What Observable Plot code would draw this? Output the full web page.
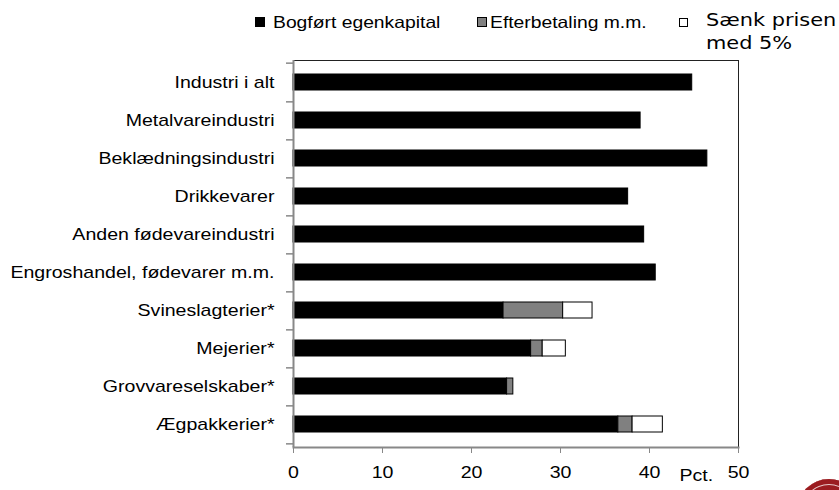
<!DOCTYPE html>
<html><head><meta charset="utf-8">
<script src="https://cdn.jsdelivr.net/npm/d3@7"></script>
<script src="https://cdn.jsdelivr.net/npm/@observablehq/plot@0.6"></script>
<style>
body{margin:0;background:#fff;}
#wrap{position:relative;width:839px;height:490px;overflow:hidden;font-family:"Liberation Sans",Arial,sans-serif;color:#000;}
#legend{position:absolute;left:0;top:0;width:839px;height:50px;}
.sw{position:absolute;width:10px;height:10px;box-sizing:border-box;border:1px solid #000;}
.lt{position:absolute;font-size:16.5px;line-height:18px;white-space:nowrap;transform:scaleX(1.17);transform-origin:left top;}
.lt2{position:absolute;font-family:"DejaVu Sans",sans-serif;font-size:18px;line-height:23px;width:116px;transform:scaleX(1.16);transform-origin:left top;}
#chart{position:absolute;left:0;top:50px;}
.logo{position:absolute;left:797px;top:479px;width:64px;height:64px;border-radius:50%;background:#9b1c20;box-shadow:inset 0 0 0 5px #9b1c20, inset 0 0 0 6px #e8c9ca;}
</style></head><body>
<div id="wrap">
  <div id="legend"></div>
  <div id="chart"></div>
  <div class="logo"></div>
</div>
<script>
const categories = ["Industri i alt", "Metalvareindustri", "Beklædningsindustri", "Drikkevarer", "Anden fødevareindustri", "Engroshandel, fødevarer m.m.", "Svineslagterier*", "Mejerier*", "Grovvareselskaber*", "Ægpakkerier*"];
const bogfort = [44.8, 39.0, 46.5, 37.6, 39.4, 40.7, 23.6, 26.7, 24.0, 36.5];
const efterbetaling = [0, 0, 0, 0, 0, 0, 6.7, 1.3, 0.7, 1.6];
const saenk = [0, 0, 0, 0, 0, 0, 3.3, 2.6, 0, 3.4];
const seriesNames = ["Bogført egenkapital", "Efterbetaling m.m.", "Sænk prisen med 5%"];
const seriesColors = ["#000000", "#808080", "#ffffff"];
const xTicks = [0, 10, 20, 30, 40, 50];

// legend
const legend = document.getElementById("legend");
const legendPos = [{sw: [255, 17, 10], tx: [273, 13]}, {sw: [477, 17, 10], tx: [490, 13]}, {sw: [679, 18, 9], tx: [706, 8]}];
seriesNames.forEach((name, i) => {
  const p = legendPos[i];
  const s = document.createElement("div");
  s.className = "sw";
  s.style.left = p.sw[0] + "px"; s.style.top = p.sw[1] + "px";
  s.style.width = p.sw[2] + "px"; s.style.height = p.sw[2] + "px";
  s.style.background = seriesColors[i];
  legend.append(s);
  const t = document.createElement("div");
  t.className = i === 2 ? "lt2" : "lt";
  t.style.left = p.tx[0] + "px"; t.style.top = p.tx[1] + "px";
  t.textContent = name;
  legend.append(t);
});

const data = [];
categories.forEach((c, i) => {
  [bogfort, efterbetaling, saenk].forEach((arr, s) => {
    if (arr[i] > 0) data.push({cat: c, series: seriesNames[s], value: arr[i]});
  });
});

const plotH = 440, mTop = 10, mBottom = 43;
const step = (plotH - mTop - mBottom) / categories.length;

const plot = Plot.plot({
  width: 839, height: plotH,
  marginTop: mTop, marginBottom: mBottom, marginLeft: 293, marginRight: 101,
  style: {fontFamily: "Liberation Sans, Arial, sans-serif", fontSize: "17px", color: "#000", background: "transparent", overflow: "visible"},
  x: {domain: [0, 50], ticks: xTicks},
  y: {domain: categories, paddingInner: 0.57, paddingOuter: 0.285},
  color: {domain: seriesNames, range: seriesColors},
  marks: [
    Plot.barX(data, {y: "cat", x: "value", fill: "series", stroke: "#000", strokeWidth: 1}),
    Plot.frame({stroke: "#222", strokeWidth: 1}),
    Plot.ruleY(categories, {y: d => d, x1: 0, x2: 0, insetLeft: -7, dy: step / 2, stroke: "#888", strokeWidth: 1.5, clip: false}),
    Plot.ruleY([categories[0]], {y: d => d, x1: 0, x2: 0, insetLeft: -7, dy: -step / 2, stroke: "#888", strokeWidth: 1.5, clip: false}),
    Plot.ruleX([0], {stroke: "#888", strokeWidth: 2}),
    Plot.frame({anchor: "bottom", stroke: "#888", strokeWidth: 2}),
    Plot.axisY({tickSize: 0, tickPadding: 19, label: null, fill: "#000", fontSize: 17}),
    Plot.axisX(xTicks, {tickSize: 6, tickPadding: 12, label: null, stroke: "#888", fill: "#000", fontSize: 17}),
    Plot.text(["Pct."], {frameAnchor: "bottom-right", dx: -59, dy: 33, textAnchor: "start", fontSize: 17, fill: "#000"})
  ]
});
document.getElementById("chart").append(plot);
plot.querySelectorAll("text").forEach(t => {
  const len = t.getComputedTextLength();
  if (len > 0) {
    t.setAttribute("textLength", len * 1.15);
    t.setAttribute("lengthAdjust", "spacingAndGlyphs");
  }
});
</script>
</body></html>
